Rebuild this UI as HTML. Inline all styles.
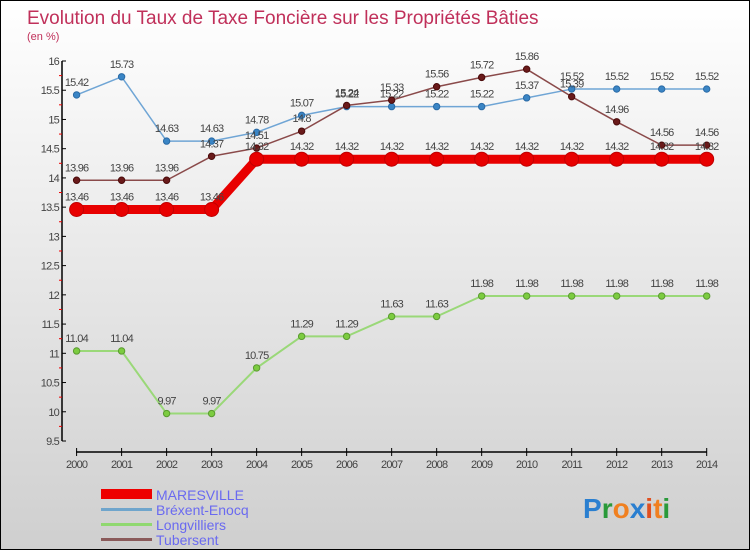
<!DOCTYPE html>
<html><head><meta charset="utf-8"><style>
body{margin:0}
#wrap{position:relative;width:750px;height:550px;box-sizing:border-box;border:1px solid #000;background:linear-gradient(#fff,#cfcfcf);font-family:"Liberation Sans",sans-serif;overflow:hidden}
text{font-family:"Liberation Sans",sans-serif}
</style></head><body>
<div id="wrap">
<svg id="svg" width="750" height="550">
<text x="26" y="23" font-size="19" fill="#c0305a">Evolution du Taux de Taxe Foncière sur les Propriétés Bâties</text>
<text x="26" y="39" font-size="11" fill="#c0305a">(en %)</text>
<g id="axes"></g><g id="series"></g>
<g>
<rect x="100" y="488" width="51" height="10" fill="#e00"/>
<text x="155" y="499" font-size="14" fill="#6a6af0">MARESVILLE</text>
<rect x="100" y="507" width="51" height="3" fill="#6fa5cc"/>
<text x="155" y="514" font-size="14" fill="#6a6af0">Bréxent-Enocq</text>
<rect x="100" y="522" width="51" height="3" fill="#90d870"/>
<text x="155" y="529" font-size="14" fill="#6a6af0">Longvilliers</text>
<rect x="100" y="537" width="51" height="3" fill="#8a5a5a"/>
<text x="155" y="544" font-size="14" fill="#6a6af0">Tubersent</text>
</g>
<g font-size="28" font-weight="bold">
<text x="582" y="517"><tspan fill="#2a7fd0">P</tspan><tspan fill="#2a9a3a">r</tspan><tspan fill="#f08020">o</tspan><tspan fill="#2a7fd0">x</tspan><tspan fill="#e05020">i</tspan><tspan fill="#f08020">t</tspan><tspan fill="#2a9a3a">i</tspan></text>
</g>
</svg></div>
<script>
const years=[2000,2001,2002,2003,2004,2005,2006,2007,2008,2009,2010,2011,2012,2013,2014];
const yTicks=[9.5,10,10.5,11,11.5,12,12.5,13,13.5,14,14.5,15,15.5,16];
const maresville=[13.46,13.46,13.46,13.46,14.32,14.32,14.32,14.32,14.32,14.32,14.32,14.32,14.32,14.32,14.32];
const brexent=[15.42,15.73,14.63,14.63,14.78,15.07,15.22,15.22,15.22,15.22,15.37,15.52,15.52,15.52,15.52];
const longvilliers=[11.04,11.04,9.97,9.97,10.75,11.29,11.29,11.63,11.63,11.98,11.98,11.98,11.98,11.98,11.98];
const tubersent=[13.96,13.96,13.96,14.37,14.51,14.8,15.24,15.33,15.56,15.72,15.86,15.39,14.96,14.56,14.56];
const NS="http://www.w3.org/2000/svg";
const X=i=>75.6+i*(705.7-75.6)/(years.length-1);
const Y=v=>440-(v-9.5)*(380/6.5);
function mk(t,a,p){const e=document.createElementNS(NS,t);for(const k in a)e.setAttribute(k,a[k]);p.appendChild(e);return e;}
const ax=document.getElementById('axes'),sg=document.getElementById('series');
mk('line',{x1:61,y1:60,x2:61,y2:440,stroke:'#000','stroke-width':1.5},ax);
mk('line',{x1:75,y1:451,x2:706,y2:451,stroke:'#000','stroke-width':1.5},ax);
yTicks.forEach((v,k)=>{const y=Y(v);
mk('line',{x1:61,y1:y,x2:65,y2:y,stroke:'#000'},ax);
if(k>0)mk('line',{x1:58,y1:y+14.6,x2:61,y2:y+14.6,stroke:'#e00'},ax);
const t=mk('text',{x:58,y:y+4,'font-size':11,fill:'#444','text-anchor':'end','letter-spacing':'-0.8'},ax);t.textContent=v;

});
years.forEach((yr,i)=>{const x=X(i);
mk('line',{x1:x,y1:447,x2:x,y2:455,stroke:'#000'},ax);
const t=mk('text',{x:x,y:467,'font-size':11,fill:'#444','text-anchor':'middle','letter-spacing':'-0.8'},ax);t.textContent=yr;

});
function series(d,name,color,w,r,dot,dotStroke){
const g=mk('g',{},sg);


mk('polyline',{points:d.map((v,i)=>X(i)+','+Y(v)).join(' '),fill:'none',stroke:color,'stroke-width':w,'stroke-linejoin':'round'},g);
d.forEach((v,i)=>{const c=mk('circle',{cx:X(i),cy:Y(v),r:r,fill:dot,stroke:dotStroke,'stroke-width':1},g);


const t=mk('text',{x:X(i),y:Y(v)-9,'font-size':11,fill:'#444','text-anchor':'middle','letter-spacing':'-0.8'},g);t.textContent=v;

});}
series(longvilliers,'longvilliers','#9ad878',2,3.2,'#7ccc40','#5a9a30');
series(brexent,'brexent','#6fa5d5',1.5,3.2,'#3a85c5','#2a6aa5');
series(tubersent,'tubersent','#8a4a4a',1.5,3.2,'#6a1a1a','#4a0a0a');
series(maresville,'maresville','#e80000',9,7,'#e80000','#c00000');
</script>
</body></html>
